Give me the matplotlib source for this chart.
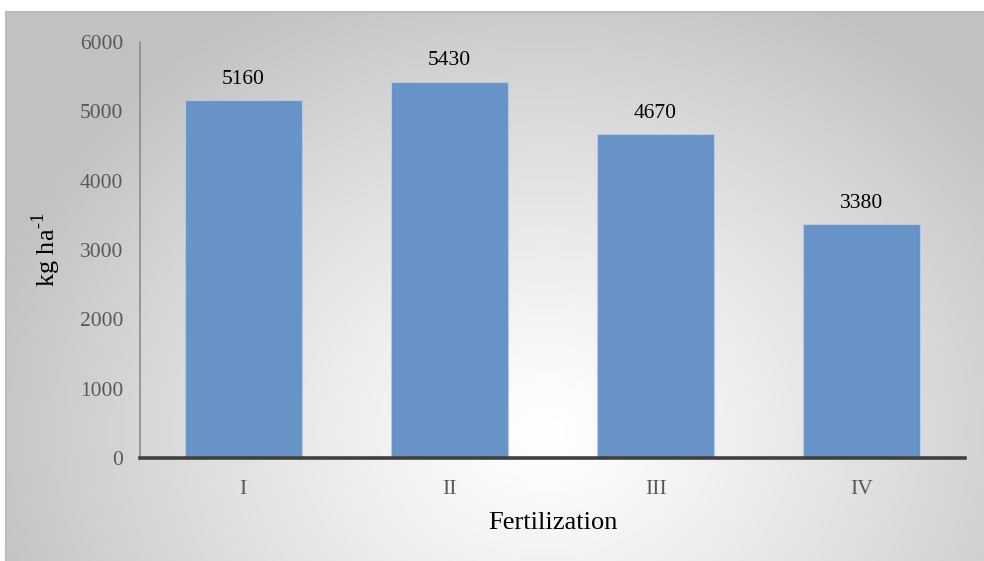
import matplotlib
matplotlib.use('Agg')
from matplotlib import pyplot as plt
import numpy as np

plt.rcParams['font.family'] = 'Liberation Serif'
plt.rcParams['mathtext.fontset'] = 'custom'
plt.rcParams['mathtext.rm'] = 'Liberation Serif'

groups = ['I', 'II', 'III', 'IV']
yields = [5160, 5430, 4670, 3380]

fig = plt.figure(figsize=(9.84, 5.61), dpi=100)

# radial grey-to-white backdrop inside a framed panel
bg = fig.add_axes([6 / 984, 0, 1 - 6 / 984, 549 / 561], zorder=0)
h, w = 549, 978
yy, xx = np.mgrid[0:h, 0:w]
r = np.sqrt(((xx - 540) / 600.0) ** 2 + ((yy - 420) / 500.0) ** 2)
shade = np.clip(1.0 - 0.25 * r ** 1.2, 0.76, 1.0)
bg.imshow(np.dstack([shade] * 3), aspect='auto', interpolation='bilinear')
bg.set_xticks([])
bg.set_yticks([])
for side in ['right', 'bottom']:
    bg.spines[side].set_visible(False)
bg.spines['left'].set_color('#bcbcbc')
bg.spines['top'].set_color('#bcbcbc')
bg.spines['left'].set_linewidth(1.5)
bg.spines['top'].set_linewidth(1.5)

ax = fig.add_axes([140 / 984, 103 / 561, 825 / 984, 416 / 561], zorder=1)
ax.patch.set_alpha(0)

x = np.arange(len(groups))
bars = ax.bar(x, yields, width=0.567, color='#6893c6', edgecolor='#b3cbe6', linewidth=0.8, zorder=2)
for xi, v in zip(x, yields):
    ax.annotate(str(v), (xi, v), xytext=(0, 8), textcoords='offset points',
                ha='center', va='bottom', fontsize=15.5, color='black')

ax.set_xlim(-0.5, 3.5)
ax.set_ylim(0, 6000)
ax.set_yticks(np.arange(0, 6001, 1000))
ax.set_xticks(x)
ax.set_xticklabels(groups)
ax.tick_params(axis='y', length=0, pad=12, labelsize=15.5, labelcolor='#595959')
ax.tick_params(axis='x', length=0, pad=16, labelsize=15.5, labelcolor='#595959')

for side in ['top', 'right']:
    ax.spines[side].set_visible(False)
ax.spines['left'].set_color('#8c8c8c')
ax.spines['left'].set_linewidth(1.2)
ax.spines['bottom'].set_color('#404040')
ax.spines['bottom'].set_linewidth(2.6)
ax.spines['bottom'].set_zorder(3)

ax.set_xlabel('Fertilization', fontsize=19, labelpad=9)
ax.set_ylabel(r'kg ha$^{\text{-1}}$', fontsize=19, labelpad=12)

plt.savefig('out.png', dpi=100)
